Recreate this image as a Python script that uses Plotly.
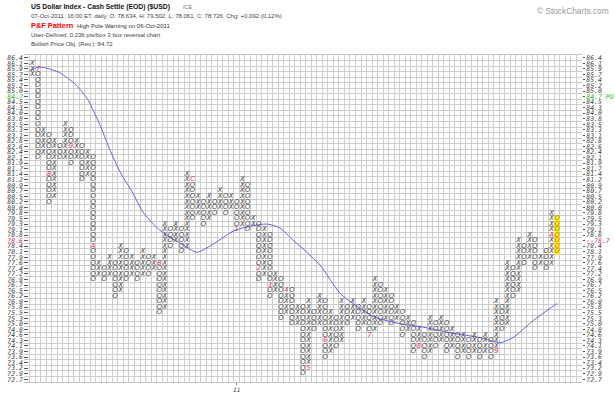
import plotly.graph_objects as go

# ---------------- data ----------------
price_labels = ["86.4","86.1","85.9","85.7","85.4","85.2","85.0","84.7","84.5","84.3",
                "84.0","83.8","83.5","83.3","83.1","82.8","82.6","82.4","82.1","81.9",
                "81.7","81.4","81.2","80.9","80.7","80.5","80.2","80.0","79.8","79.5",
                "79.3","79.1","78.8","78.6","78.4","78.1","77.9","77.6","77.4","77.2",
                "76.9","76.7","76.5","76.2","76.0","75.8","75.5","75.3","75.0","74.8",
                "74.6","74.3","74.1","73.9","73.6","73.4","73.2","72.9","72.7"]

col_types = ["X","O"] * 48

col_high = ["86.1","85.9","83.3","83.1","82.8","82.6","83.5","83.3","82.8","82.6",
            "82.4","82.1","77.6","77.4","77.9","77.6","78.4","78.1","77.9","77.6",
            "78.1","77.9","77.9","77.6","79.3","79.1","79.3","79.1","81.4","81.2",
            "80.5","80.2","80.5","80.2","80.7","80.5","80.5","80.2","81.2","80.9",
            "79.5","79.3","79.1","78.8","77.2","76.9","76.5","76.5","75.8","75.8",
            "76.0","75.5","76.2","76.0","75.5","75.3","76.0","75.8","76.0","75.8",
            "76.0","75.8","76.9","76.7","76.5","76.2","75.8","75.5","75.3","75.0",
            "74.8","74.6","75.3","75.0","75.3","75.0","74.8","74.6","74.6","74.3",
            "74.6","74.3","74.6","74.3","76.0","75.8","77.6","77.4","78.6","78.4",
            "78.8","78.6","77.9","78.1","79.8","79.5"]

col_low = ["85.7","82.1","82.4","80.2","80.5","82.1","82.1","81.9","82.1","81.2",
           "81.4","76.9","77.2","76.9","77.2","76.2","76.5","76.9","77.2","76.9",
           "77.2","77.2","77.4","75.5","75.8","78.4","78.6","78.1","78.4","79.5",
           "79.8","79.3","79.5","79.8","80.0","79.8","80.0","79.1","79.3","79.1",
           "79.3","76.9","77.2","76.2","76.5","75.3","75.5","75.0","75.0","72.9",
           "73.2","74.8","75.0","73.6","73.9","74.1","74.3","75.0","75.3","74.8",
           "75.0","74.6","74.8","75.0","75.3","75.0","75.3","74.6","74.8","73.9",
           "74.1","73.6","73.9","74.1","74.3","73.9","74.1","73.6","73.9","73.6",
           "73.9","73.6","73.9","73.6","73.9","74.8","75.0","76.2","76.5","77.6",
           "77.9","77.4","77.6","77.4","77.6","78.1"]

month_col   = [2, 4, 8, 12, 24, 30, 38, 42, 44, 47, 51, 54, 62, 71, 85, 95]
month_price = ["85.9","81.4","82.6","78.4","77.6","81.2","79.1","77.4","76.7","76.5",
               "73.2","74.3","74.6","74.1","73.9","78.8"]
month_text  = ["7","8","9","A","B","C","1","2","3","4","5","6","7","8","9","A"]

year_text = "11"          # shown under the January column
year_month = "1"

# moving-average line (column position, box level from bottom)
ma_col   = [0.5, 2.0, 3.3, 6.0, 8.7, 10.9, 13.2, 15.0, 17.0, 19.2, 21.0, 23.6, 25.9,
            27.7, 30.8, 34.1, 37.3, 40.4, 43.5, 45.8, 48.2, 50.7, 53.1, 56.7, 60.3,
            63.0, 68.1, 71.2, 76.6, 82.1, 85.7, 88.0, 91.7, 96.0]
ma_level = [55.6, 56.3, 56.2, 55.3, 53.3, 50.7, 46.0, 41.5, 37.2, 33.6, 30.2, 27.3, 25.6,
            24.6, 22.9, 24.6, 26.7, 27.6, 28.0, 27.3, 25.1, 22.9, 20.6, 15.5, 12.8,
            11.2, 9.9, 9.5, 8.4, 7.5, 6.6, 7.5, 10.6, 13.7]

po_label = "84.7"         # bullish price objective row
last_label = "78.6"       # current price row
last_close = "78.7"
signal_col = 96
signal_high = "79.5"
signal_low = "78.1"
signal_split = "78.6"

# ---------------- build ----------------
n = len(price_labels)
level = {p: n - 1 - i for i, p in enumerate(price_labels)}
month_cells = {(c, level[p]): t for c, p, t in zip(month_col, month_price, month_text)}

xX, yX, xO, yO = [], [], [], []
sx_top, sy_top, sx_bot, sy_bot = [], [], [], []
for i, (t, h, l) in enumerate(zip(col_types, col_high, col_low)):
    c = i + 1
    for k in range(level[l], level[h] + 1):
        if (c, k) in month_cells:
            continue
        if c == signal_col and level[signal_low] <= k <= level[signal_high]:
            if k > level[signal_split]:
                sx_top.append(c); sy_top.append(k)
            else:
                sx_bot.append(c); sy_bot.append(k)
            continue
        if t == "X":
            xX.append(c); yX.append(k)
        else:
            xO.append(c); yO.append(k)

INK = "#474747"
GLYPH = dict(family="DejaVu Sans", size=6.8, color=INK)
fig = go.Figure()

# highlight boxes of the signal column
hx = [signal_col] * (level[signal_high] - level[signal_low] + 1)
hy = list(range(level[signal_low], level[signal_high] + 1))
fig.add_trace(go.Scatter(x=hx, y=hy, mode="markers",
                         marker=dict(symbol="square", size=5.6, color="#ffef1a", line=dict(width=0)),
                         hoverinfo="skip"))

fig.add_trace(go.Scatter(x=ma_col, y=ma_level, mode="lines",
                         line=dict(color="#6b5cf0", width=1, shape="spline", smoothing=0.6),
                         hoverinfo="skip"))

def glyphs(xs, ys, ch, font):
    fig.add_trace(go.Scatter(x=xs, y=ys, mode="text", text=["<i>%s</i>" % ch] * len(xs),
                             textfont=font, textposition="middle center", hoverinfo="skip"))

glyphs(xX, yX, "X", GLYPH)
glyphs(xO, yO, "O", GLYPH)
glyphs(sx_top, sy_top, "O", dict(family="DejaVu Sans", size=6.8, color="#a88400"))
glyphs(sx_bot, sy_bot, "O", dict(family="DejaVu Sans", size=6.8, color="#ff5a00"))
fig.add_trace(go.Scatter(x=month_col, y=[level[p] for p in month_price], mode="text",
                         text=["<i>%s</i>" % t for t in month_text],
                         textfont=dict(family="DejaVu Sans", size=6.8, color="#e0286e"),
                         textposition="middle center", hoverinfo="skip"))
# invisible trace for the right axis
fig.add_trace(go.Scatter(x=[0], y=[0], yaxis="y2", mode="markers",
                         marker=dict(opacity=0), hoverinfo="skip"))

tickvals = list(range(n))
left_text, right_text = [], []
for k in tickvals:
    p = price_labels[n - 1 - k]
    if p == po_label:
        left_text.append('<span style="color:#22bb22"><i>%s</i></span>' % p)
        right_text.append('<span style="color:#22bb22"><i>%s PO</i></span>' % p)
    elif p == last_label:
        left_text.append('<span style="color:#e0286e"><i>%s</i></span>' % p)
        right_text.append('<span style="color:#e0286e"><i>‹‹%s</i></span>' % last_close)
    else:
        left_text.append("<i>%s</i>" % p)
        right_text.append("<i>%s</i>" % p)

grid_x = [c + 0.5 for c in range(-1, 101)]
grid_y = [k + 0.5 for k in range(-1, n)]
LBL = dict(family="DejaVu Sans Mono", size=6.5, color="#444444")

year_col = [c for c, t in zip(month_col, month_text) if t == year_month][0]

fig.update_layout(
    width=615, height=394,
    margin=dict(l=24, r=33, t=55, b=12, autoexpand=False),
    paper_bgcolor="white", plot_bgcolor="white",
    showlegend=False,
    xaxis=dict(range=[-0.5, 100.5], tickvals=[year_col], ticktext=["<i>%s</i>" % year_text],
               ticks="outside", ticklen=2, tickcolor="#888",
               tickfont=dict(family="DejaVu Sans", size=6, color="#444"),
               showgrid=False, zeroline=False, showline=True, linecolor="#c4c4c4", mirror=True,
               automargin=False,
               minor=dict(tickvals=grid_x, showgrid=True, gridcolor="#cdcdcd", gridwidth=1, ticks="")),
    yaxis=dict(range=[-0.5, n - 0.5], tickvals=tickvals, ticktext=left_text, tickfont=LBL,
               ticks="inside", ticklen=4, tickcolor="#555", showgrid=False, zeroline=False,
               showline=False, automargin=False,
               minor=dict(tickvals=grid_y, showgrid=True, gridcolor="#cdcdcd", gridwidth=1, ticks="")),
    yaxis2=dict(range=[-0.5, n - 0.5], tickvals=tickvals, ticktext=right_text, tickfont=LBL,
                overlaying="y", side="right", ticks="outside", ticklen=2, tickcolor="#555",
                showgrid=False, zeroline=False, showline=False, automargin=False),
)

def ann(px, py, text, size, color, bold=False, family="Liberation Sans"):
    fig.add_annotation(xref="paper", yref="paper", x=(px - 24) / 558, y=(382 - py) / 327,
                       xanchor="left", yanchor="middle", showarrow=False,
                       text=("<b>%s</b>" % text) if bold else text,
                       font=dict(family=family, size=size, color=color))

ann(29, 6.5, "US Dollar Index - Cash Settle (EOD) ($USD)", 6.8, "#111", bold=True)
ann(181, 6.5, "ICE", 5.5, "#777")
ann(29, 16, "07-Oct-2011, 16:00 ET, daily, O: 78.634, H: 79.502, L: 78.061, C: 78.726, Chg: +0.092 (0.12%)", 6, "#444")
ann(29, 25.5, "P&F Pattern", 7.4, "#ff0000", bold=True)
ann(75, 25.5, "High Pole Warning on 06-Oct-2011", 6, "#333")
ann(29, 35, "User-Defined, 0.236 pts/box 3 box reversal chart", 6, "#444")
ann(29, 44, "Bullish Price Obj. (Rev.): 84.72", 6, "#444")
ann(535, 11, "© StockCharts.com", 8.3, "#999")

fig.write_html("out.html",
               config={"displayModeBar": False, "staticPlot": True},
               post_script="document.body.style.margin='0px';document.body.style.overflow='hidden';")
